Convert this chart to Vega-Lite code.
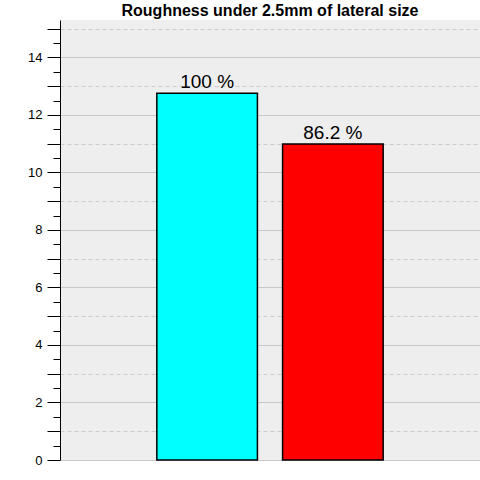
{
  "$schema": "https://vega.github.io/schema/vega-lite/v6.json",
  "autosize": {"type": "none"},
  "padding": {"left": 60, "top": 20, "right": 0, "bottom": 20},
  "width": 420,
  "height": 440,
  "background": "white",
  "config": {
    "font": "Liberation Sans",
    "view": {"fill": "#eeeeee", "stroke": null}
  },
  "title": {
    "text": "Roughness under 2.5mm of lateral size",
    "font": "Liberation Sans",
    "fontSize": 16,
    "fontWeight": "bold",
    "color": "black",
    "offset": 1
  },
  "data": {
    "values": [
      {"group": "A", "roughness": 12.75, "label": "100 %"},
      {"group": "B", "roughness": 10.99, "label": "86.2 %"}
    ]
  },
  "encoding": {
    "x": {
      "field": "group",
      "type": "nominal",
      "sort": null,
      "scale": {"paddingInner": 0.2, "paddingOuter": 0.77},
      "axis": null
    },
    "y": {
      "field": "roughness",
      "type": "quantitative",
      "scale": {"domain": [0, 15.3], "nice": false, "zero": true},
      "axis": {
        "title": null,
        "values": [0, 0.5, 1, 1.5, 2, 2.5, 3, 3.5, 4, 4.5, 5, 5.5, 6, 6.5, 7, 7.5, 8, 8.5, 9, 9.5, 10, 10.5, 11, 11.5, 12, 12.5, 13, 13.5, 14, 14.5, 15],
        "labelExpr": "datum.value % 2 == 0 ? format(datum.value, 'd') : ''",
        "labelFont": "Liberation Sans",
        "labelFontSize": 13,
        "labelColor": "black",
        "labelPadding": 5,
        "domainColor": "black",
        "domainWidth": 1,
        "tickColor": "black",
        "tickWidth": 1,
        "tickSize": {"condition": {"test": "datum.value % 1 == 0", "value": 13}, "value": 7},
        "grid": true,
        "gridColor": {"condition": {"test": "datum.value % 2 == 0", "value": "#c8c8c8"}, "value": "#cccccc"},
        "gridDash": {"condition": {"test": "datum.value % 2 == 1", "value": [4, 3]}, "value": []},
        "gridOpacity": {"condition": {"test": "datum.value % 1 != 0", "value": 0}, "value": 1},
        "gridWidth": 1
      }
    }
  },
  "layer": [
    {
      "mark": {"type": "bar", "stroke": "black", "strokeWidth": 1.5},
      "encoding": {
        "color": {
          "field": "group",
          "type": "nominal",
          "scale": {"domain": ["A", "B"], "range": ["#00ffff", "#ff0000"]},
          "legend": null
        }
      }
    },
    {
      "mark": {"type": "text", "baseline": "alphabetic", "dy": -5, "fontSize": 19, "color": "black", "font": "Liberation Sans"},
      "encoding": {"text": {"field": "label", "type": "nominal"}}
    }
  ]
}
